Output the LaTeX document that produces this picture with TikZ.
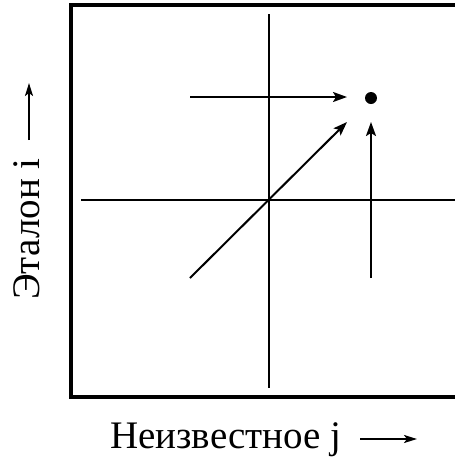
\documentclass[tikz,border=0pt]{standalone}
\usepackage{fontspec}
\setmainfont{Liberation Serif}
\usetikzlibrary{arrows.meta}
\begin{document}
\begin{tikzpicture}[x=1pt,y=-1pt,
  thin line/.style={line width=2pt},
  arr/.style={thin line,-{Stealth[length=14pt,width=10pt,inset=3pt]}},
  sarr/.style={thin line,-{Stealth[length=13pt,width=8pt,inset=3pt]}},
  lbl/.style={font=\fontsize{39}{44}\selectfont, inner sep=0pt}]
\useasboundingbox (0,0) rectangle (455,459);
\clip (0,0) rectangle (455,459);
% frame
\draw[line width=4pt] (71,5) rectangle (480,397);
% axes
\coordinate (vtop) at (269,14);
\coordinate (vbot) at (269,388);
\coordinate (hl) at (81,199.5);
\coordinate (hr) at (470,199.5);
\draw[thin line] (vtop) -- (vbot);
\draw[thin line] (hl) -- (hr);
% point
\node[circle, fill=black, minimum size=12pt, inner sep=0pt] (dot) at (371,98) {};
% arrows
\coordinate (a1s) at (190,97);
\coordinate (a1e) at (347,97);
\coordinate (a2s) at (190,278);
\coordinate (a2e) at (347,122);
\coordinate (a3s) at (371,278);
\coordinate (a3e) at (371,122);
\draw[arr] (a1s) -- (a1e);
\draw[arr] (a2s) -- (a2e);
\draw[arr] (a3s) -- (a3e);
% labels
\node[lbl, anchor=base west] (xl) at (110,448) {Неизвестное j};
\coordinate (xas) at (360,439);
\coordinate (xae) at (417,439);
\draw[sarr] (xas) -- (xae);
\node[lbl, anchor=base west, rotate=90] (yl) at (39,300) {Эталон i};
\coordinate (yas) at (29,140);
\coordinate (yae) at (29,83);
\draw[sarr] (yas) -- (yae);
\end{tikzpicture}
\end{document}
